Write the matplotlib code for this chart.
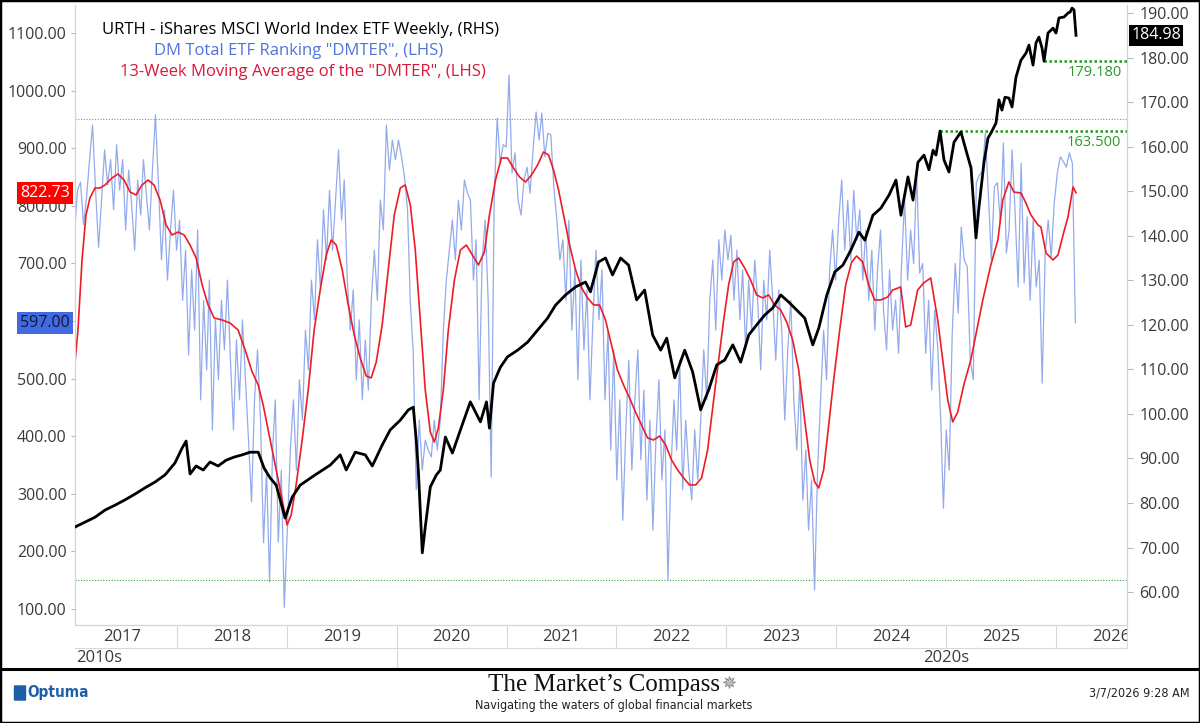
import matplotlib.pyplot as plt
import matplotlib.transforms as mtransforms
from matplotlib.patches import Rectangle, FancyBboxPatch
from matplotlib.lines import Line2D
import pandas as pd

plt.rcParams["font.family"] = ["Open Sans", "DejaVu Sans"]

# URTH weekly close (RHS), decimal year / price
urth_t = [
    2017.073, 2017.164, 2017.255, 2017.346, 2017.437, 2017.528, 2017.619, 2017.710, 2017.801, 2017.892, 2017.983,
    2018.047, 2018.084, 2018.120, 2018.175, 2018.239, 2018.302, 2018.375, 2018.448, 2018.521, 2018.594, 2018.667,
    2018.740, 2018.794, 2018.849, 2018.904, 2018.985,
    2019.049, 2019.122, 2019.258, 2019.395, 2019.486, 2019.541, 2019.623, 2019.714, 2019.778, 2019.868, 2019.941,
    2020.033, 2020.106, 2020.151, 2020.178, 2020.197, 2020.233, 2020.260, 2020.306, 2020.361, 2020.397, 2020.443,
    2020.507, 2020.580, 2020.670, 2020.762, 2020.817, 2020.844, 2020.881, 2020.944,
    2021.008, 2021.100, 2021.191, 2021.282, 2021.373, 2021.445, 2021.536, 2021.627, 2021.718, 2021.763, 2021.836,
    2021.900, 2021.964,
    2022.037, 2022.110, 2022.183, 2022.256, 2022.329, 2022.402, 2022.457, 2022.530, 2022.621, 2022.693, 2022.766,
    2022.839, 2022.912, 2022.985,
    2023.058, 2023.130, 2023.203, 2023.276, 2023.349, 2023.422, 2023.495, 2023.567, 2023.640, 2023.713, 2023.786,
    2023.841, 2023.914, 2023.987,
    2024.060, 2024.133, 2024.206, 2024.260, 2024.333, 2024.406, 2024.479, 2024.543, 2024.588, 2024.652, 2024.698,
    2024.743, 2024.798, 2024.843, 2024.880, 2024.907, 2024.944, 2024.980,
    2025.025, 2025.071, 2025.134, 2025.180, 2025.226, 2025.271, 2025.298, 2025.344, 2025.380, 2025.408, 2025.453,
    2025.480, 2025.507, 2025.535, 2025.571, 2025.599, 2025.635, 2025.680, 2025.726, 2025.753, 2025.790, 2025.817,
    2025.844, 2025.872, 2025.890, 2025.926, 2025.972, 2025.999,
    2026.026, 2026.072, 2026.108, 2026.127, 2026.145, 2026.163, 2026.181,
]
urth_v = [
    74.6, 75.7, 76.8, 78.4, 79.5, 80.7, 82.0, 83.4, 84.7, 86.3, 89.0,
    92.3, 93.9, 86.5, 88.3, 87.4, 89.2, 88.3, 89.6, 90.3, 90.8, 91.4,
    91.4, 87.8, 85.6, 84.0, 76.6,
    81.3, 84.0, 86.3, 88.5, 90.8, 87.4, 91.4, 90.8, 88.3, 93.0, 96.4,
    98.6, 100.9, 101.5, 94.1, 87.4, 68.8, 74.6, 83.6, 86.3, 87.4, 94.8,
    91.2, 96.4, 102.7, 98.2, 102.7, 96.8, 106.9, 110.5,
    112.8, 114.3, 116.1, 118.8, 121.5, 124.4, 126.7, 128.5, 129.6, 127.4, 134.1,
    135.0, 131.2,
    135.0, 133.4, 125.6, 127.8, 117.7, 114.3, 117.0, 108.1, 114.3, 109.4, 100.9,
    105.4, 111.0, 112.1,
    115.5, 111.6, 117.7, 120.0, 122.2, 123.8, 126.7, 125.1, 123.3, 121.5, 115.5,
    119.3, 126.7, 131.9,
    133.4, 136.8, 140.8, 139.0, 144.6, 146.2, 149.1, 152.5, 144.6, 153.2, 148.0,
    156.5, 158.1, 154.8, 159.2, 158.1, 163.5, 157.0,
    154.3, 161.0, 163.3, 159.2, 155.2, 139.5, 146.4, 156.5, 161.9, 163.1, 165.3,
    170.5, 168.2, 171.1, 170.9, 168.9, 175.6, 179.4, 181.0, 182.8, 178.3, 183.3,
    184.6, 182.1, 179.18, 185.5, 186.6, 185.5,
    188.9, 189.1, 190.0, 190.2, 191.1, 190.7, 184.98,
]

# 13-week moving average of DMTER (LHS)
ma_t = [
    2017.073, 2017.100, 2017.137, 2017.173, 2017.209, 2017.255, 2017.301, 2017.346, 2017.410, 2017.464,
    2017.519, 2017.574, 2017.628, 2017.683, 2017.738, 2017.792, 2017.847, 2017.902, 2017.956,
    2018.011, 2018.066, 2018.120, 2018.175, 2018.230, 2018.284, 2018.339, 2018.412, 2018.484, 2018.557,
    2018.621, 2018.685, 2018.740, 2018.785, 2018.831, 2018.876, 2018.922, 2018.967,
    2019.003, 2019.040, 2019.085, 2019.140, 2019.195, 2019.249, 2019.304, 2019.359, 2019.404, 2019.450,
    2019.505, 2019.559, 2019.614, 2019.668, 2019.723, 2019.768, 2019.814, 2019.868, 2019.923, 2019.978,
    2020.033, 2020.078, 2020.124, 2020.169, 2020.215, 2020.260, 2020.306, 2020.342, 2020.379, 2020.424,
    2020.470, 2020.525, 2020.580, 2020.634, 2020.689, 2020.744, 2020.798, 2020.844, 2020.899, 2020.953,
    2021.008, 2021.063, 2021.118, 2021.172, 2021.227, 2021.282, 2021.336, 2021.382, 2021.427, 2021.473,
    2021.518, 2021.573, 2021.628, 2021.683, 2021.737, 2021.792, 2021.846, 2021.900, 2021.955,
    2022.009, 2022.064, 2022.119, 2022.173, 2022.228, 2022.283, 2022.337, 2022.392, 2022.447, 2022.501,
    2022.556, 2022.611, 2022.665, 2022.720, 2022.774, 2022.829, 2022.884, 2022.929, 2022.975,
    2023.020, 2023.066, 2023.111, 2023.166, 2023.220, 2023.275, 2023.330, 2023.384, 2023.439, 2023.494,
    2023.548, 2023.603, 2023.658, 2023.712, 2023.758, 2023.803, 2023.840, 2023.885, 2023.931, 2023.976,
    2024.031, 2024.085, 2024.140, 2024.185, 2024.240, 2024.294, 2024.349, 2024.404, 2024.468, 2024.513,
    2024.586, 2024.631, 2024.677, 2024.740, 2024.795, 2024.859, 2024.923, 2024.968,
    2025.014, 2025.059, 2025.105, 2025.160, 2025.224, 2025.278, 2025.333, 2025.406, 2025.470, 2025.515,
    2025.570, 2025.616, 2025.680, 2025.725, 2025.771, 2025.835, 2025.862, 2025.908, 2025.972,
    2026.017, 2026.063, 2026.108, 2026.154, 2026.181,
]
ma_v = [
    528.8, 584.4, 705.9, 784.0, 813.5, 830.9, 830.9, 836.1, 848.3, 855.2,
    844.8, 824.0, 818.8, 836.1, 844.8, 836.1, 810.1, 766.7, 749.3,
    754.5, 749.3, 731.9, 709.4, 662.5, 627.8, 605.2, 601.7, 596.5, 584.4,
    549.7, 511.5, 488.9, 454.2, 410.8, 367.4, 324.0, 280.6,
    245.9, 263.2, 315.3, 393.4, 480.2, 584.4, 653.8, 714.6, 740.6, 731.9,
    688.5, 627.8, 575.7, 535.8, 504.5, 501.1, 528.8, 593.1, 688.5, 784.0,
    830.9, 836.1, 801.4, 723.3, 601.7, 480.2, 407.3, 389.9, 414.2, 480.2,
    584.4, 671.2, 723.3, 731.9, 714.6, 697.2, 719.8, 784.0, 844.8, 883.0,
    883.0, 865.6, 850.0, 841.3, 853.5, 870.8, 893.4, 888.2, 862.2, 827.4,
    784.0, 731.9, 688.5, 657.3, 640.0, 627.8, 627.8, 601.7, 558.3,
    514.9, 488.9, 466.3, 442.0, 419.4, 396.9, 393.4, 400.3, 384.7, 358.7,
    341.3, 327.4, 315.3, 315.3, 327.4, 376.0, 462.9, 532.3, 601.7,
    662.5, 702.4, 709.4, 692.0, 671.2, 645.2, 640.0, 645.2, 627.8, 619.1,
    598.3, 567.0, 514.9, 428.1, 358.7, 320.5, 310.1, 341.3, 419.4, 497.6,
    584.4, 662.5, 702.4, 712.8, 702.4, 662.5, 636.5, 636.5, 641.7, 653.8,
    659.0, 589.6, 593.1, 653.8, 666.0, 674.7, 601.7, 532.3,
    462.9, 424.7, 442.0, 488.9, 532.3, 584.4, 636.5, 697.2, 740.6, 810.1,
    841.3, 823.9, 822.2, 804.9, 784.0, 766.7, 763.2, 718.1, 705.9,
    714.6, 749.3, 780.6, 832.6, 822.73,
]

# DM Total ETF Ranking (LHS), read off roughly every 10 days
dmter_start, dmter_end = "2017-01-27", "2026-03-06"
dmter = [
    758, 827, 841, 767, 814, 880, 940, 827, 728, 810, 897, 836, 880, 793, 906, 827, 880, 758,
    862, 801, 723, 845, 784, 880, 819, 758, 862, 958, 836, 706, 793, 671, 758, 827, 723,
    775, 636, 723, 541, 689, 584, 758, 463, 636, 515, 671, 411, 602, 498, 636, 550, 671, 532,
    411, 567, 463, 602, 498, 393, 286, 463, 550, 428, 215, 341, 147, 376, 463, 216, 341, 103, 242,
    376, 463, 341, 498, 428, 584, 515, 671, 602, 741, 654, 793, 706, 827, 723, 810, 897, 775,
    845, 671, 584, 654, 498, 602, 463, 567, 480, 636, 723, 636, 810, 758, 940, 862, 914, 880, 914,
    885, 850, 793, 636, 545, 307, 428, 341, 393, 376, 364, 428, 376, 428, 584, 671, 723, 775,
    706, 810, 758, 845, 822, 810, 671, 741, 463, 706, 775, 636, 329, 810, 952, 874, 906, 902, 1027,
    857, 892, 810, 784, 845, 867, 822, 897, 963, 914, 961, 885, 926, 923, 833, 775, 706, 741,
    636, 775, 584, 689, 498, 706, 550, 654, 463, 602, 723, 602, 689, 463, 584, 376, 550, 324, 463,
    254, 411, 532, 341, 463, 550, 359, 480, 289, 428, 237, 393, 498, 324, 411, 150, 341, 463,
    376, 532, 307, 428, 341, 289, 411, 324, 428, 550, 463, 636, 706, 584, 741, 671, 758, 706, 749,
    636, 723, 602, 689, 550, 671, 584, 706, 636, 515, 671, 602, 723, 636, 532, 654, 584, 428,
    550, 636, 463, 376, 498, 289, 376, 237, 324, 133, 341, 463, 584, 498, 689, 758, 671, 775, 845,
    723, 810, 706, 827, 741, 793, 671, 758, 636, 723, 584, 689, 758, 619, 550, 689, 584, 636,
    544, 700, 810, 671, 758, 700, 859, 683, 700, 544, 636, 480, 619, 555, 428, 275, 411, 341, 579,
    700, 614, 763, 706, 694, 532, 498, 840, 853, 859, 926, 822, 706, 833, 840, 770, 909, 718,
    758, 897, 788, 659, 874, 666, 781, 636, 775, 659, 706, 492, 718, 775, 711, 805, 857, 885, 877,
    867, 892, 874, 597,
]

years = list(range(2017, 2027))
decades = [("2010s", None), ("2020s", 2025.0)]
left_ticks = list(range(100, 1101, 100))
right_ticks = list(range(60, 191, 10))
red_level = 950
green_level = 150
urth_levels = [(2024.944, 163.5), (2025.890, 179.18)]

dm_dates = pd.date_range(dmter_start, dmter_end, periods=len(dmter))
dm_t = [d.year + (d.dayofyear - 1) / 365.25 for d in dm_dates]

x0, x1 = 2017.073, 2026.645

## PLOT!
W, H = 1200, 723
fig = plt.figure(figsize=(12, 7.23), dpi=100)


def fx(px):
    return px / W


def fy(py):
    return 1 - py / H


narrow = dict(family="DejaVu Sans", stretch="condensed")

ax = fig.add_axes([fx(75), fy(625), fx(1127) - fx(75), fy(5) - fy(625)])
ax2 = ax.twinx()

for a in (ax, ax2):
    for s in a.spines.values():
        s.set_color("#d4d4d4")
        s.set_linewidth(0.8)
    a.spines["top"].set_visible(False)

ax.set_xlim(x0, x1)
ax.set_ylim(72.2, 1148.6)
ax2.set_ylim(52.6, 191.8)
ax.set_xticks([])

# the 600 label sits under the last-value flag of the DMTER, as in the original
ax.set_yticks(left_ticks)
ax.set_yticklabels(["" if v == 600 else f"{v:.2f}" for v in left_ticks])
ax.tick_params(axis="y", length=3, width=0.8, color="#b8b8b8",
               labelsize=11.5, labelcolor="#3a3a3a", pad=3)
ax2.set_yticks(right_ticks)
ax2.set_yticklabels([f"{v:.2f}" for v in right_ticks])
ax2.tick_params(axis="y", length=4, width=0.8, color="#b8b8b8",
                labelsize=11.5, labelcolor="#3a3a3a", pad=5)

# reference lines
ax.axhline(red_level, color="#ff5c5c", lw=0.8, ls=(0, (1, 1.5)), zorder=1)
ax.axhline(green_level, color="#3c9f3c", lw=0.8, ls=(0, (1, 1.5)), zorder=1)

ax.plot(dm_t, dmter, color="#93abec", lw=0.9, zorder=2)
ax.plot(ma_t, ma_v, color="#ee1c25", lw=1.2, zorder=3)
ax2.plot(urth_t, urth_v, color="black", lw=2.0, solid_joinstyle="round", zorder=3)

for start, level in urth_levels:
    ax2.hlines(level, start, x1, colors="#1e9a1e", lw=1.8, linestyles=(0, (1, 1)))
    ax2.annotate(f"{level:.3f}", xy=(x1, level), xytext=(-4, -3),
                 textcoords="offset points", ha="right", va="top",
                 color="#2a9a2a", fontsize=10.5)

# last value flags
tl = mtransforms.blended_transform_factory(ax.transAxes, ax.transData)
ax.text(-0.005, ma_v[-1], f"{ma_v[-1]:.2f}", transform=tl, ha="right", va="center",
        color="white", fontsize=11.5, zorder=10,
        bbox=dict(boxstyle="square,pad=0.18", fc="#ff0000", ec="none"))
ax.text(-0.005, dmter[-1], f"{dmter[-1]:.2f}", transform=tl, ha="right", va="center",
        color="#101830", fontsize=11.5, zorder=10,
        bbox=dict(boxstyle="square,pad=0.18", fc="#4169e1", ec="none"))
tr = mtransforms.blended_transform_factory(ax2.transAxes, ax2.transData)
ax2.text(1.004, urth_v[-1], f"{urth_v[-1]:.2f}", transform=tr, ha="left", va="center",
         color="white", fontsize=11.5, zorder=10,
         bbox=dict(boxstyle="square,pad=0.15", fc="black", ec="none"))

# legend text
fig.text(fx(301), fy(30), "URTH - iShares MSCI World Index ETF Weekly, (RHS)",
         ha="center", va="center", fontsize=12, color="black")
fig.text(fx(299), fy(51), 'DM Total ETF Ranking "DMTER", (LHS)',
         ha="center", va="center", fontsize=12, color="#4e73dc")
fig.text(fx(303), fy(72), '13-Week Moving Average of the "DMTER", (LHS)',
         ha="center", va="center", fontsize=12, color="#d7193a")

# date band under the chart
band = fig.add_axes([fx(75), fy(668), fx(1127) - fx(75), fy(625) - fy(668)])
band.set_xlim(x0, x1)
band.set_ylim(43, 0)
band.axis("off")
grey = "#d8d8d8"
band.plot([x0, x1], [23, 23], color=grey, lw=0.8)
band.plot([x1, x1], [0, 23], color=grey, lw=0.8, clip_on=False)
for y in years[1:]:
    band.plot([y, y], [0, 23], color=grey, lw=0.8)
band.plot([2020, 2020], [23, 43], color=grey, lw=0.8)
for y in years:
    band.text(y + 0.5, 12, str(y), ha="center", va="center", fontsize=12,
              color="#3a3a3a", clip_on=True)
band.text(x0 + 0.01, 32.5, decades[0][0], ha="left", va="center", fontsize=12, color="#3a3a3a")
band.text(decades[1][1], 32.5, decades[1][0], ha="center", va="center", fontsize=12, color="#3a3a3a")

# footer
fig.add_artist(Line2D([0, 1], [fy(669), fy(669)], transform=fig.transFigure,
                      color="black", lw=2.2))
fig.add_artist(Rectangle((0, 0), 1, 1, transform=fig.transFigure, fill=False,
                         ec="black", lw=2.5))
fig.text(fx(604), fy(685), "The Market\u2019s Compass", ha="center", va="center",
         fontsize=18, family=["Liberation Serif", "DejaVu Serif"], color="#111111")
fig.text(fx(729), fy(684), "\u2735", ha="center", va="center", fontsize=13,
         family="DejaVu Sans", color="#777777")
fig.text(fx(614), fy(706), "Navigating the waters of global financial markets",
         ha="center", va="center", fontsize=9, color="#222222", **narrow)
fig.add_artist(FancyBboxPatch((fx(15), fy(700)), fx(10), fy(686) - fy(700),
                              boxstyle="round,pad=0.001", transform=fig.transFigure,
                              fc="#1d5ea8", ec="none"))
fig.text(fx(27), fy(693), "Optuma", ha="left", va="center", fontsize=11,
         color="#1d5ea8", weight="bold", **narrow)
fig.text(fx(1190), fy(693), "3/7/2026 9:28 AM", ha="right", va="center", fontsize=9,
         color="#222222", **narrow)

plt.savefig("out.png", dpi=100)
